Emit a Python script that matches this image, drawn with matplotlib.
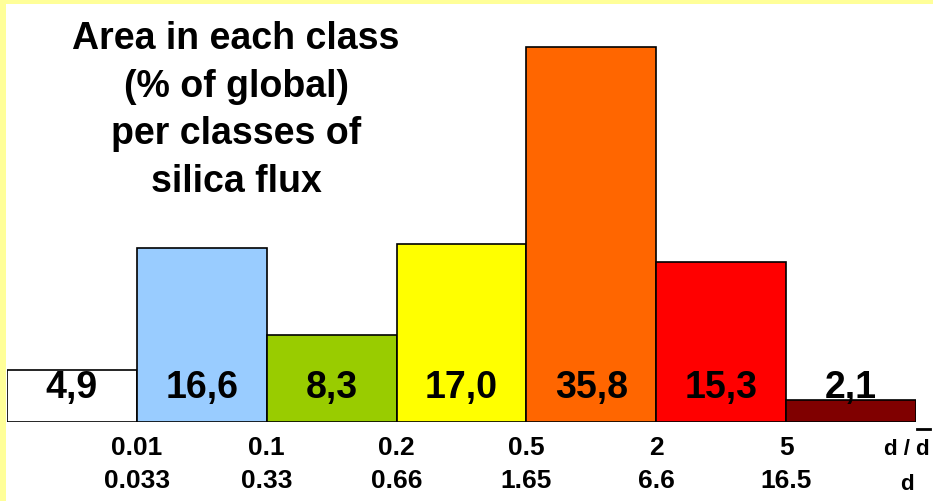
import matplotlib
matplotlib.use('Agg')
import matplotlib.pyplot as plt
from matplotlib.patches import Rectangle

# Area share (% of global) per class of silica flux
values = [4.9, 16.6, 8.3, 17.0, 35.8, 15.3, 2.1]
value_labels = ['4,9', '16,6', '8,3', '17,0', '35,8', '15,3', '2,1']
colors = ['#FFFFFF', '#99CCFF', '#99CC00', '#FFFF00', '#FF6600', '#FF0000', '#800000']

# class limits: relative (d / d-bar) and absolute (d)
rel_limits = ['0.01', '0.1', '0.2', '0.5', '2', '5']
abs_limits = ['0.033', '0.33', '0.66', '1.65', '6.6', '16.5']

plt.rcParams['font.family'] = ['Liberation Sans', 'DejaVu Sans']

fig = plt.figure(figsize=(9.33, 5.02), dpi=100)
fig.patch.set_facecolor('#FFFF99')
# white page inside the yellow frame
fig.patches.append(Rectangle((6 / 933, 0), 1, 497 / 502, transform=fig.transFigure,
                             facecolor='white', edgecolor='none', zorder=-10))

ax = fig.add_axes([7 / 933, 79.5 / 502, 909 / 933, 417 / 502])
ax.patch.set_alpha(0)

x = list(range(len(values)))
ax.bar(x, values, width=1, align='edge', color=colors, edgecolor='black', linewidth=1.2)

for i, lab in enumerate(value_labels):
    ax.text(i + 0.5, 2.3, lab, ha='center', va='baseline', fontsize=27,
            fontweight='bold', color='black')

ax.set_xlim(0, 7)
ax.set_ylim(0, 39.9)

ax.set_xticks(range(1, 7))
ax.set_xticklabels([f'{r}\n{a}' for r, a in zip(rel_limits, abs_limits)],
                   fontsize=19, fontweight='bold', linespacing=1.45)
ax.tick_params(axis='x', length=0, pad=10)
ax.set_yticks([])
for s in ax.spines.values():
    s.set_visible(False)

# last column: d / d-bar and d
ax.text(6.93, -2.6, 'd / d', ha='center', va='center', fontsize=16, fontweight='bold')
ax.text(6.93, -5.95, 'd', ha='center', va='center', fontsize=16, fontweight='bold')
ax.plot([7.01, 7.105], [-0.67, -0.67], color='black', lw=2, clip_on=False)

fig.text(236 / 933, 0.780, 'Area in each class\n(% of global)\nper classes of\nsilica flux',
         ha='center', va='center', fontsize=27, fontweight='bold', linespacing=1.42)

fig.savefig('out.png', dpi=100, facecolor=fig.get_facecolor())
